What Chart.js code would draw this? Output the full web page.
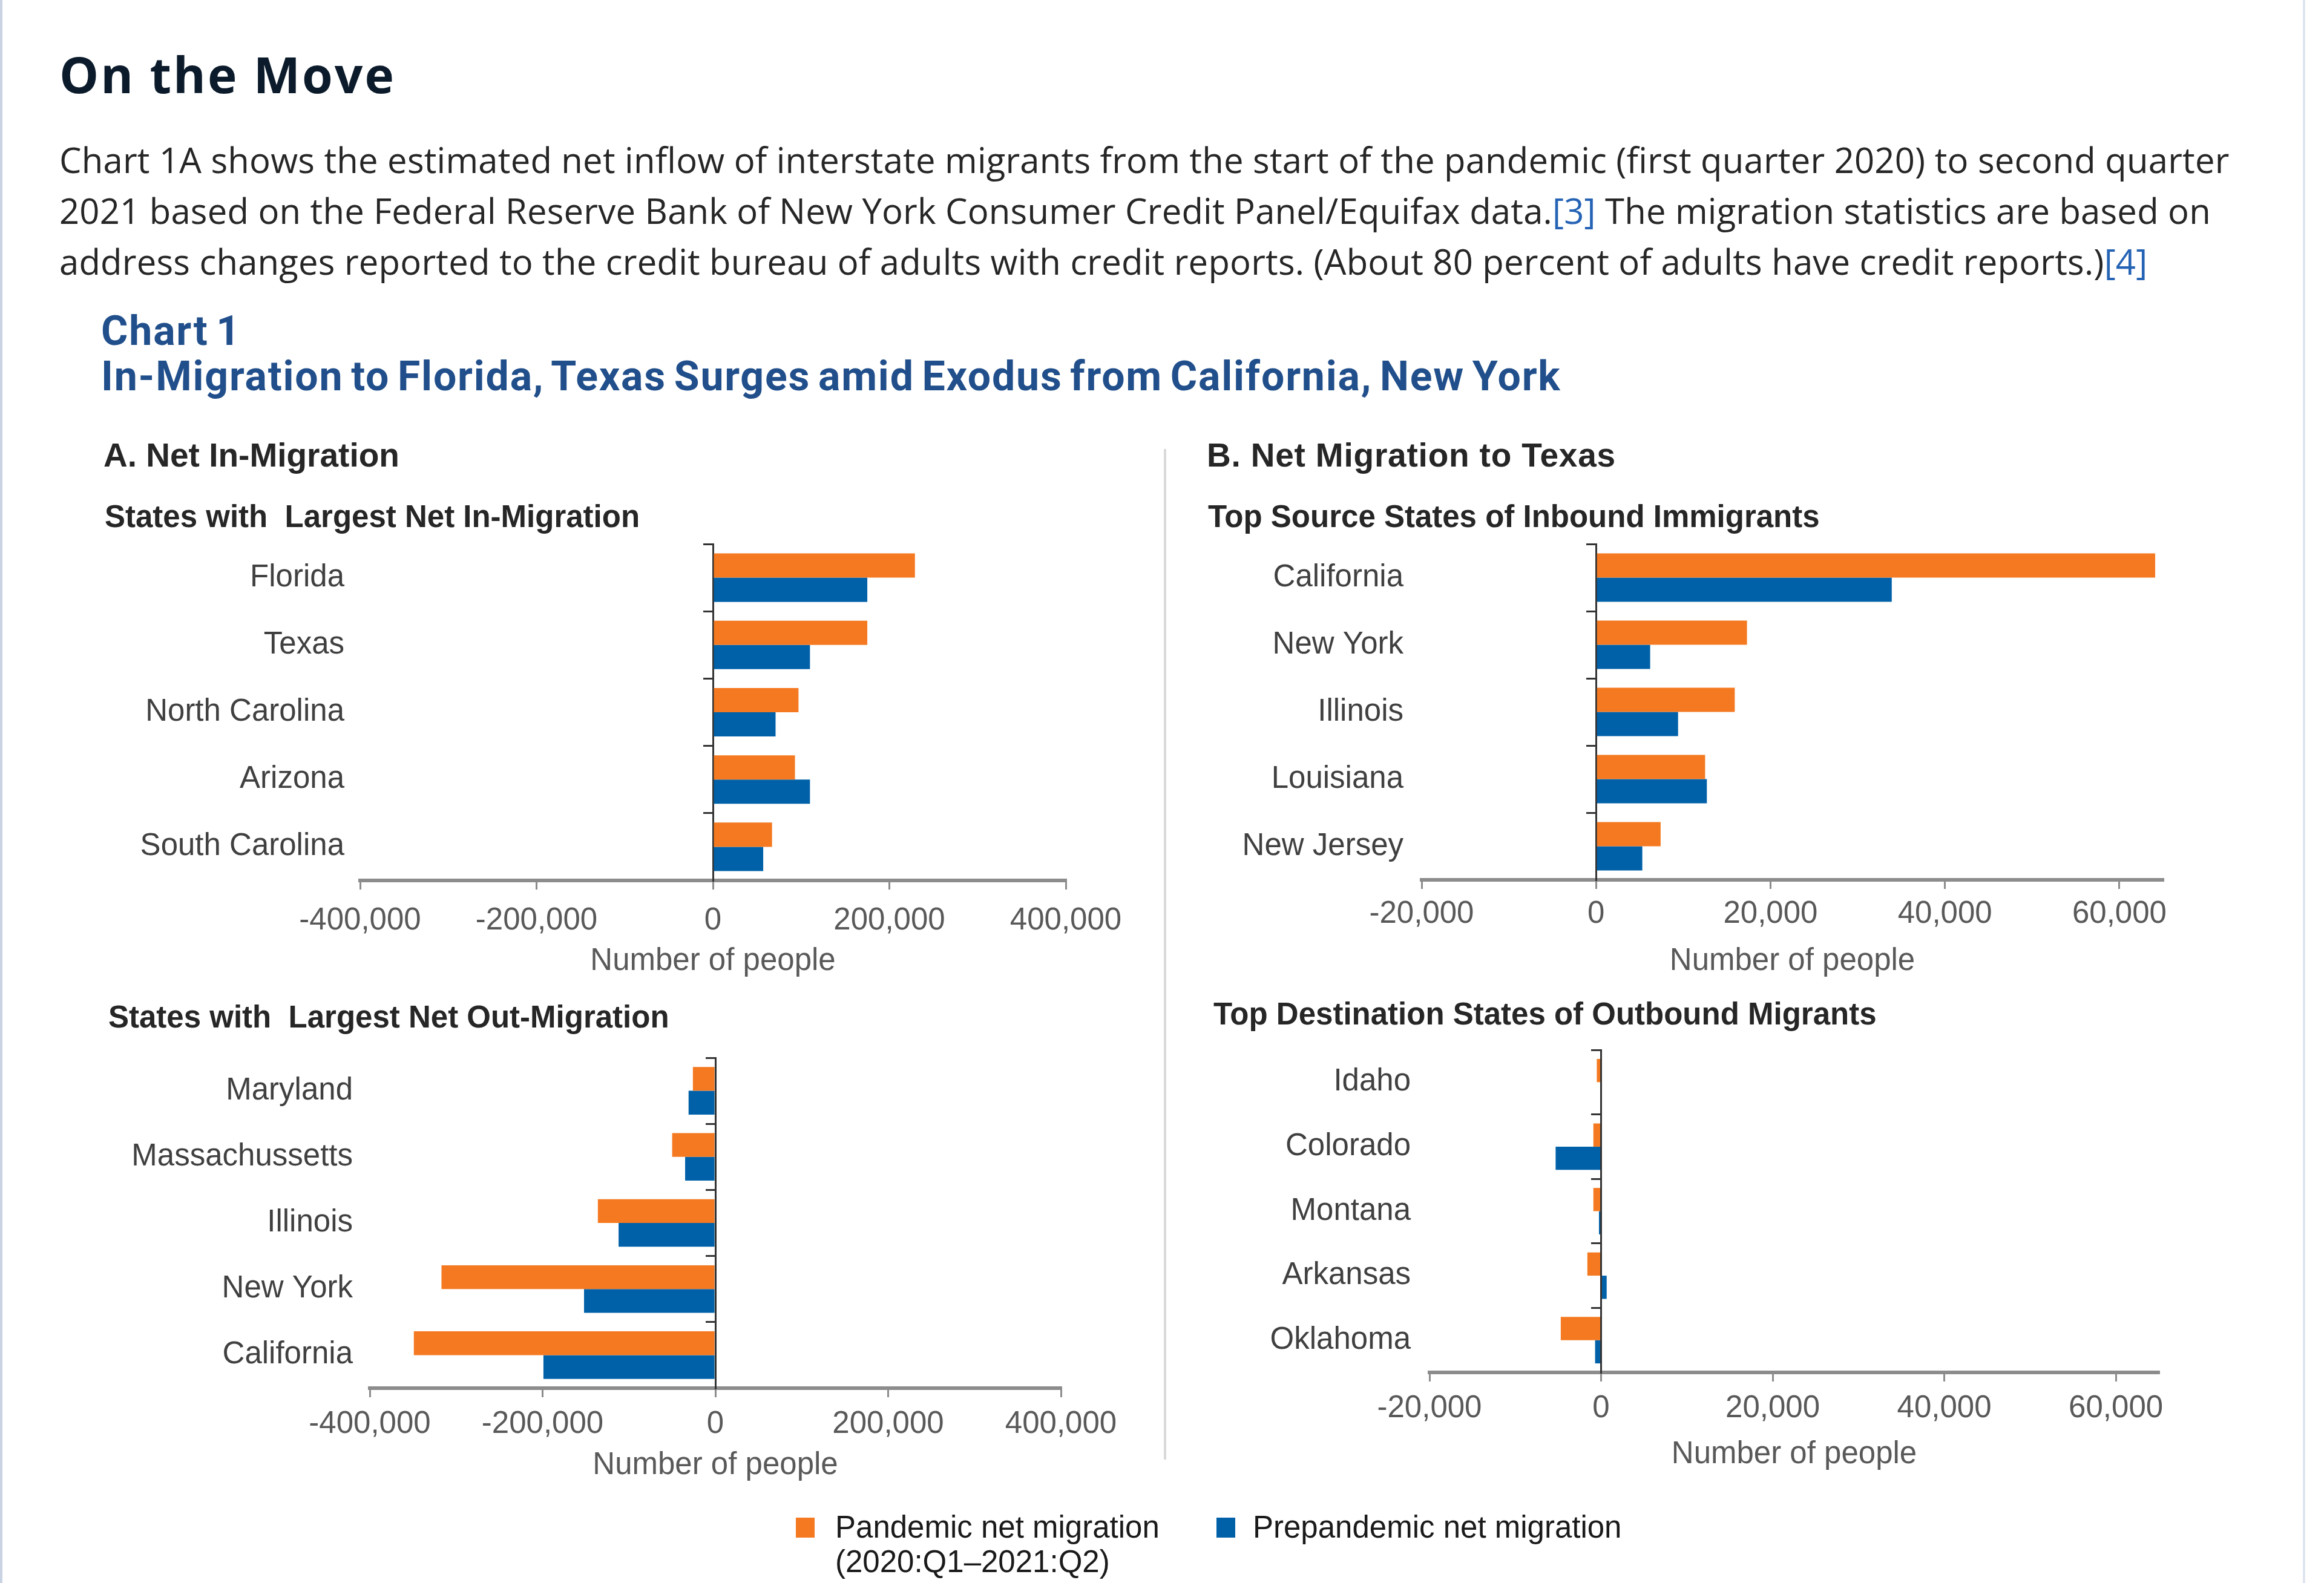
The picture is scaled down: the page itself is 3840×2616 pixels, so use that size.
<!DOCTYPE html>
<html lang="en">
<head>
<meta charset="UTF-8">
<title>On the Move</title>
<script src="https://cdn.jsdelivr.net/npm/chart.js"></script>
<style>
  html, body { margin: 0; padding: 0; background: #fff; }
  body { width: 3840px; height: 2616px; position: relative; overflow: hidden; }
  .abs { position: absolute; white-space: nowrap; }
  .edgeL { left: 0; top: 0; width: 4px; height: 2616px; background: #c9d3e3; }
  .edgeR { left: 3805px; top: 0; width: 4px; height: 2616px; background: #dfe5ef; }
  h1 { margin: 0; font: 700 82px/100px "Open Sans", sans-serif; color: #0c1b2b; letter-spacing: 3px; }
  .para { font: 400 58px/84px "Open Sans", sans-serif; color: #262626; letter-spacing: 0.2px; }
  .para a { color: #2563b5; text-decoration: none; }
  .charttitle { font: 700 68px/75px Roboto, sans-serif; color: #214f8b; letter-spacing: 1.8px; word-spacing: -6px; }
  .panel { font: 700 55px/55px "Liberation Sans", Arial, sans-serif; color: #262626; }
  .sub { font: 700 51px/51px "Liberation Sans", Arial, sans-serif; color: #262626; }
  .sep { left: 1923px; top: 742px; width: 4px; height: 1670px; background: #d9d9d9; }
  .legtxt { font: 400 51px/57px "Liberation Sans", Arial, sans-serif; color: #1a1a1a; }
  .sw { width: 31px; height: 33px; }
  canvas { position: absolute; }
</style>
</head>
<body>
<div class="abs edgeL"></div>
<div class="abs edgeR"></div>

<h1 class="abs" style="left:98px; top:72px;">On the Move</h1>
<div class="abs para" style="left:98px; top:222px;">
  Chart 1A shows the estimated net inflow of interstate migrants from the start of the pandemic (first quarter 2020) to second quarter<br>
  2021 based on the Federal Reserve Bank of New York Consumer Credit Panel/Equifax data.<a href="#">[3]</a> The migration statistics are based on<br>
  address changes reported to the credit bureau of adults with credit reports. (About 80 percent of adults have credit reports.)<a href="#">[4]</a>
</div>

<div class="abs charttitle" style="left:167px; top:510px;">
  Chart 1<br>
  In-Migration to Florida, Texas Surges amid Exodus from California, New York
</div>

<div class="abs panel" style="left:171px; top:725px;">A. Net In-Migration</div>
<div class="abs panel" style="left:1994px; top:725px; letter-spacing:0.8px;">B. Net Migration to Texas</div>
<div class="abs sub" style="left:173px; top:828px;">States with&nbsp; Largest Net In-Migration</div>
<div class="abs sub" style="left:1996px; top:828px;">Top Source States of Inbound Immigrants</div>
<div class="abs sub" style="left:179px; top:1655px;">States with&nbsp; Largest Net Out-Migration</div>
<div class="abs sub" style="left:2005px; top:1650px;">Top Destination States of Outbound Migrants</div>
<div class="abs sep"></div>

<canvas id="inChart"></canvas>
<canvas id="srcChart"></canvas>
<canvas id="outChart"></canvas>
<canvas id="dstChart"></canvas>

<div class="abs sw" style="left:1315px; top:2508px; background:#f47920;"></div>
<div class="abs legtxt" style="left:1380px; top:2495px;">Pandemic net migration<br>(2020:Q1–2021:Q2)</div>
<div class="abs sw" style="left:2010px; top:2508px; background:#0061a8;"></div>
<div class="abs legtxt" style="left:2070px; top:2495px;">Prepandemic net migration</div>

<script>
  // Panel A: states with largest net in-migration
  const inStates = ['Florida', 'Texas', 'North Carolina', 'Arizona', 'South Carolina'];
  const inPandemic = [229000, 175000, 97000, 93000, 67000];
  const inPrepandemic = [175000, 110000, 71000, 110000, 57000];

  // Panel A: states with largest net out-migration
  const outStates = ['Maryland', 'Massachussetts', 'Illinois', 'New York', 'California'];
  const outPandemic = [-26000, -50000, -136000, -317000, -349000];
  const outPrepandemic = [-31000, -35000, -112000, -152000, -199000];

  // Panel B: top source states of inbound migrants to Texas
  const srcStates = ['California', 'New York', 'Illinois', 'Louisiana', 'New Jersey'];
  const srcPandemic = [64100, 17300, 15900, 12500, 7400];
  const srcPrepandemic = [33900, 6200, 9400, 12700, 5300];

  // Panel B: top destination states of outbound migrants from Texas
  const dstStates = ['Idaho', 'Colorado', 'Montana', 'Arkansas', 'Oklahoma'];
  const dstPandemic = [-500, -900, -900, -1600, -4700];
  const dstPrepandemic = [0, -5300, -250, 650, -700];

  // axis ticks
  const ticksA = [-400000, -200000, 0, 200000, 400000];
  const ticksB = [-20000, 0, 20000, 40000, 60000];
  const maxB = 65000;

  const ORANGE = '#f47920';
  const BLUE = '#0061a8';

  Chart.defaults.font.family = '"Liberation Sans", Arial, sans-serif';

  function drawPanel(id, frame, labels, pandemic, prepandemic, tickVals, xMax) {
    const YW = 480, PT = 20, PR = 140;
    const left = frame.plotLeft - YW;
    const top = frame.plotTop - PT;
    const w = frame.plotRight - left + PR;
    const h = frame.titleY + 31 - top;
    const xh = frame.titleY + 31 - frame.plotBottom;

    const cv = document.getElementById(id);
    cv.style.left = left + 'px';
    cv.style.top = top + 'px';
    cv.width = w; cv.height = h;
    cv.style.width = w + 'px'; cv.style.height = h + 'px';

    return new Chart(cv, {
      type: 'bar',
      data: {
        labels: labels,
        datasets: [
          {label: 'Pandemic net migration', data: pandemic, backgroundColor: ORANGE},
          {label: 'Prepandemic net migration', data: prepandemic, backgroundColor: BLUE}
        ]
      },
      options: {
        indexAxis: 'y',
        responsive: false,
        animation: false,
        layout: {padding: {left: 0, top: PT, right: PR, bottom: 0}},
        datasets: {bar: {categoryPercentage: 0.72, barPercentage: 1}},
        plugins: {legend: {display: false}, tooltip: {enabled: false}},
        scales: {
          x: {
            min: tickVals[0],
            max: xMax,
            afterBuildTicks: s => { s.ticks = tickVals.map(v => ({value: v})); },
            afterFit: s => { s.height = xh; s.paddingLeft = 0; s.paddingRight = 0; },
            grid: {drawOnChartArea: false, drawTicks: true, tickLength: 15, color: '#8c8c8c', lineWidth: 3},
            border: {display: true, color: '#8c8c8c', width: 6},
            ticks: {
              padding: frame.tickPad,
              color: '#595959',
              font: {size: 51, lineHeight: 1.2},
              maxRotation: 0,
              callback: v => v.toLocaleString('en-US')
            },
            title: {
              display: true,
              text: 'Number of people',
              color: '#595959',
              font: {size: 51, lineHeight: 1.2},
              padding: {top: 0, bottom: 0}
            }
          },
          y: {
            afterFit: s => { s.width = YW; s.paddingTop = 0; s.paddingBottom = 0; },
            grid: {display: false, drawTicks: false},
            border: {display: false},
            ticks: {padding: frame.labelGap, color: '#404040', font: {size: 51}}
          },
          y2: {
            type: 'category',
            labels: labels,
            offset: true,
            position: {x: 0},
            afterFit: s => { s.paddingTop = 0; s.paddingBottom = 0; },
            grid: {offset: true, drawOnChartArea: false, drawTicks: true, tickLength: 15, color: '#333', lineWidth: 3},
            border: {display: true, color: '#333', width: 3},
            ticks: {display: false}
          }
        }
      }
    });
  }

  drawPanel('inChart', {plotLeft: 595, plotRight: 1761, plotTop: 899, plotBottom: 1455, titleY: 1589, tickPad: 21, labelGap: 26},
    inStates, inPandemic, inPrepandemic, ticksA, ticksA[ticksA.length - 1]);
  drawPanel('srcChart', {plotLeft: 2349, plotRight: 3574, plotTop: 899, plotBottom: 1454, titleY: 1589, tickPad: 11, labelGap: 30},
    srcStates, srcPandemic, srcPrepandemic, ticksB, maxB);
  drawPanel('outChart', {plotLeft: 611, plotRight: 1753, plotTop: 1748, plotBottom: 2294, titleY: 2422, tickPad: 14, labelGap: 28},
    outStates, outPandemic, outPrepandemic, ticksA, ticksA[ticksA.length - 1]);
  drawPanel('dstChart', {plotLeft: 2362, plotRight: 3567, plotTop: 1735, plotBottom: 2268, titleY: 2404, tickPad: 14, labelGap: 31},
    dstStates, dstPandemic, dstPrepandemic, ticksB, maxB);
</script>
</body>
</html>
